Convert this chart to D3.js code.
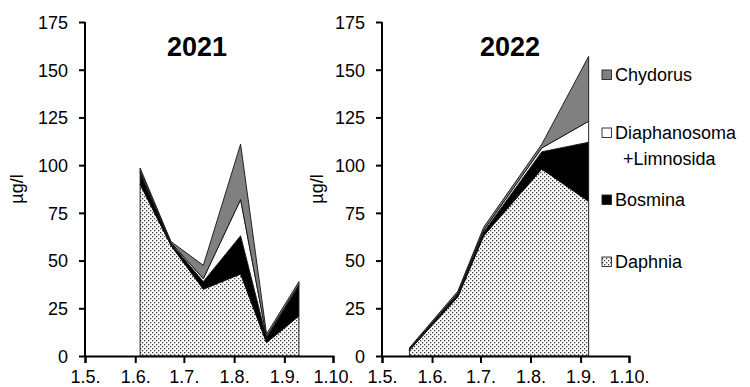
<!DOCTYPE html>
<html>
<head>
<meta charset="utf-8">
<script src="https://cdn.jsdelivr.net/npm/d3@7"></script>
<style>
  html, body { margin: 0; padding: 0; background: #fff; }
  svg { display: block; font-family: "Liberation Sans", Arial, sans-serif; }
</style>
</head>
<body>
<svg id="chart" width="750" height="387"></svg>
<script>
// Cladoceran biomass (µg/l) by sampling date, stacked by taxon
const taxa = ["Daphnia", "Bosmina", "Diaphanosoma", "Chydorus"];
const legendLabels = ["Chydorus", "Diaphanosoma\n+Limnosida", "Bosmina", "Daphnia"];

const dates2021 = ["2021-06-04", "2021-06-23", "2021-07-13", "2021-08-05", "2021-08-21", "2021-09-10"];
const daphnia2021 = [90, 58, 35, 43, 7, 21];
const bosmina2021 = [6, 1, 4, 20, 2.5, 16];
const diaphanosoma2021 = [1, 0.5, 1.5, 19, 0.5, 0.5];
const chydorus2021 = [1.5, 0.5, 7, 29, 1.5, 1.5];

const dates2022 = ["2022-05-18", "2022-06-17", "2022-07-03", "2022-08-08", "2022-09-06"];
const daphnia2022 = [3, 31, 63, 98, 81];
const bosmina2022 = [0.5, 1.5, 2, 9, 31];
const diaphanosoma2022 = [0.3, 0.5, 1, 2, 11];
const chydorus2022 = [0.5, 1, 1.5, 2, 34];

const yTicks = [0, 25, 50, 75, 100, 125, 150, 175];
const monthStarts = ["05-01", "06-01", "07-01", "08-01", "09-01", "10-01"];

const parse = d3.timeParse("%Y-%m-%d");
const fmt = d => `${d.getDate()}.${d.getMonth() + 1}.`;

const svg = d3.select("#chart");
const defs = svg.append("defs");

// Stippled fill used for Daphnia
const pat = defs.append("pattern")
  .attr("id", "stipple").attr("patternUnits", "userSpaceOnUse")
  .attr("width", 4).attr("height", 4);
pat.append("rect").attr("width", 4).attr("height", 4).attr("fill", "#fff");
pat.append("rect").attr("x", 0).attr("y", 0).attr("width", 1.3).attr("height", 1.3).attr("fill", "#3a3a3a");
pat.append("rect").attr("x", 2).attr("y", 2).attr("width", 1.3).attr("height", 1.3).attr("fill", "#3a3a3a");

const fills = {
  Daphnia: "url(#stipple)",
  Bosmina: "#000",
  Diaphanosoma: "#fff",
  Chydorus: "#808080"
};

const plotTop = 22, plotBottom = 356;
const y = d3.scaleLinear().domain([0, 175]).range([plotBottom, plotTop]);
const fontSize = "18px";

function panel(cfg) {
  const rows = cfg.dates.map((d, i) => ({
    date: parse(d),
    Daphnia: cfg.daphnia[i],
    Bosmina: cfg.bosmina[i],
    Diaphanosoma: cfg.diaphanosoma[i],
    Chydorus: cfg.chydorus[i]
  }));
  const ticks = monthStarts.map(m => parse(`${cfg.year}-${m}`));
  const x = d3.scaleTime().domain([ticks[0], ticks[ticks.length - 1]]).range([cfg.x0, cfg.x1]);

  const g = svg.append("g");
  const series = d3.stack().keys(taxa)(rows);
  const area = d3.area()
    .x(d => x(d.data.date))
    .y0(d => y(d[0]))
    .y1(d => y(d[1]));

  g.selectAll("path.layer").data(series).join("path")
    .attr("class", "layer")
    .attr("d", area)
    .attr("fill", s => fills[s.key])
    .attr("stroke", "#111")
    .attr("stroke-width", 0.9)
    .attr("stroke-linejoin", "round");

  // y axis
  const ya = g.append("g").attr("transform", `translate(${cfg.x0},0)`)
    .call(d3.axisLeft(y).tickValues(yTicks).tickSize(6).tickPadding(11));
  // x axis
  const xa = g.append("g").attr("transform", `translate(0,${plotBottom})`)
    .call(d3.axisBottom(x).tickValues(ticks).tickFormat(fmt).tickSize(7).tickPadding(7));

  [ya, xa].forEach(a => {
    a.select(".domain").attr("stroke", "#000").attr("stroke-width", 2);
    a.selectAll(".tick line").attr("stroke", "#000").attr("stroke-width", 2);
    a.selectAll(".tick text").attr("fill", "#000")
      .style("font-size", fontSize).style("font-family", "'Liberation Sans', Arial, sans-serif");
  });
  ya.selectAll(".domain").attr("d", `M0,${plotBottom}V${plotTop}`);
  ya.selectAll(".tick text").attr("dy", "0.35em");
  xa.selectAll(".tick text").attr("dy", "0.71em");

  g.append("text")
    .attr("transform", `translate(${cfg.yLabelX},189) rotate(-90)`)
    .attr("text-anchor", "middle").attr("dy", "0.35em")
    .style("font-size", fontSize).text("µg/l");

  g.append("text")
    .attr("x", cfg.titleX).attr("y", 56)
    .attr("text-anchor", "middle")
    .style("font-size", "27px").style("font-weight", "bold")
    .text(cfg.year);
}

panel({ year: "2021", dates: dates2021, daphnia: daphnia2021, bosmina: bosmina2021,
        diaphanosoma: diaphanosoma2021, chydorus: chydorus2021,
        x0: 85, x1: 333, yLabelX: 17, titleX: 197 });
panel({ year: "2022", dates: dates2022, daphnia: daphnia2022, bosmina: bosmina2022,
        diaphanosoma: diaphanosoma2022, chydorus: chydorus2022,
        x0: 382, x1: 629, yLabelX: 317, titleX: 510 });

// Legend
const legendKeys = ["Chydorus", "Diaphanosoma", "Bosmina", "Daphnia"];
const legendY = [75, 133, 200, 262];
const lg = svg.append("g");
legendKeys.forEach((k, i) => {
  const cy = legendY[i];
  lg.append("rect").attr("x", 602).attr("y", cy - 5).attr("width", 9.5).attr("height", 9.5)
    .attr("fill", fills[k]).attr("stroke", "#222").attr("stroke-width", 0.9);
  const lines = legendLabels[i].split("\n");
  lines.forEach((t, j) => {
    lg.append("text")
      .attr("x", j === 0 ? 615 : 623)
      .attr("y", cy + j * 26).attr("dy", "0.35em")
      .style("font-size", fontSize).attr("fill", "#000")
      .text(t);
  });
});
</script>
</body>
</html>
